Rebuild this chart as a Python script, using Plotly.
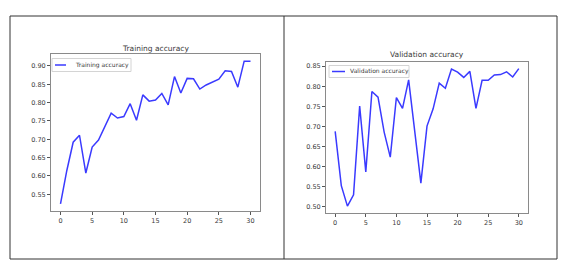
import plotly.graph_objects as go

epochs = list(range(31))
train_acc = [0.524, 0.615, 0.692, 0.711, 0.608, 0.679, 0.698, 0.735, 0.771, 0.758,
             0.762, 0.797, 0.752, 0.821, 0.804, 0.807, 0.825, 0.794, 0.871, 0.826,
             0.866, 0.865, 0.837, 0.848, 0.856, 0.864, 0.887, 0.885, 0.842, 0.913, 0.913]
val_acc = [0.688, 0.553, 0.502, 0.530, 0.751, 0.587, 0.787, 0.773, 0.686, 0.624,
           0.772, 0.745, 0.816, 0.686, 0.559, 0.701, 0.744, 0.808, 0.795, 0.843,
           0.835, 0.822, 0.837, 0.745, 0.815, 0.815, 0.828, 0.829, 0.836, 0.823, 0.844]
train_yticks = [0.55, 0.60, 0.65, 0.70, 0.75, 0.80, 0.85, 0.90]
val_yticks = [0.50, 0.55, 0.60, 0.65, 0.70, 0.75, 0.80, 0.85]
xticks = [0, 5, 10, 15, 20, 25, 30]
titles = ["Training accuracy", "Validation accuracy"]

W, H = 574, 279
def px(x): return x / W
def py(y): return 1 - y / H

LINE = "#3a3aff"
TXT = "#3a3a3a"
FONT = "DejaVu Sans"

fig = go.Figure()
fig.add_trace(go.Scatter(x=epochs, y=train_acc, mode="lines", name=titles[0],
                         line=dict(color=LINE, width=1.5), xaxis="x", yaxis="y"))
fig.add_trace(go.Scatter(x=epochs, y=val_acc, mode="lines", name=titles[1],
                         line=dict(color=LINE, width=1.5), xaxis="x2", yaxis="y2"))

axcommon = dict(showgrid=False, zeroline=False, showline=True, mirror=True,
                linecolor="#8a8a8a", linewidth=1, ticks="outside", ticklen=3,
                tickcolor="#555555", tickwidth=0.8,
                tickfont=dict(family=FONT, size=6.5, color=TXT))

def rng(vals):
    lo, hi = min(vals), max(vals)
    m = (hi - lo) * 0.05
    return [lo - m, hi + m]

annotations = []
shapes = [
    dict(type="rect", xref="paper", yref="paper", x0=px(10), x1=px(557), y0=py(259), y1=py(16),
         line=dict(color="#333333", width=1)),
    dict(type="line", xref="paper", yref="paper", x0=px(284), x1=px(284), y0=py(259), y1=py(16),
         line=dict(color="#333333", width=1)),
]

# titles
for t, (xl, xr), yt in [(titles[0], (51, 260), 48), (titles[1], (326, 528), 55)]:
    annotations.append(dict(text=t, x=px((xl + xr) / 2), y=py(yt), xref="paper", yref="paper",
                            xanchor="center", yanchor="middle", showarrow=False,
                            font=dict(family=FONT, size=7.5, color=TXT)))

# legends (box + line sample + label)
for t, (x0, x1, y0, y1), (l0, l1, tx) in [
        (titles[0], (52, 131, 58.5, 71.5), (55, 66, 73)),
        (titles[1], (329, 409, 65.5, 77.5), (332, 345, 348))]:
    ym = (y0 + y1) / 2
    shapes.append(dict(type="rect", xref="paper", yref="paper", x0=px(x0), x1=px(x1),
                       y0=py(y1), y1=py(y0), fillcolor="rgba(255,255,255,0.8)",
                       line=dict(color="#d4d4d4", width=1)))
    shapes.append(dict(type="line", xref="paper", yref="paper", x0=px(l0), x1=px(l1),
                       y0=py(ym), y1=py(ym), line=dict(color=LINE, width=1.5)))
    annotations.append(dict(text=t, x=px(tx), y=py(ym), xref="paper", yref="paper",
                            xanchor="left", yanchor="middle", showarrow=False,
                            font=dict(family=FONT, size=6, color=TXT)))

fig.update_layout(
    width=W, height=H, margin=dict(l=0, r=0, t=0, b=0),
    paper_bgcolor="white", plot_bgcolor="white", showlegend=False,
    xaxis=dict(domain=[px(51), px(260)], range=rng(epochs), tickvals=xticks, anchor="y", **axcommon),
    yaxis=dict(domain=[py(211), py(54)], range=rng(train_acc), tickvals=train_yticks,
               tickformat=".2f", anchor="x", **axcommon),
    xaxis2=dict(domain=[px(326), px(528)], range=rng(epochs), tickvals=xticks, anchor="y2", **axcommon),
    yaxis2=dict(domain=[py(213), py(61.7)], range=rng(val_acc), tickvals=val_yticks,
                tickformat=".2f", anchor="x2", **axcommon),
    annotations=annotations,
    shapes=shapes,
)

fig.write_html("out.html", config={"displayModeBar": False},
               post_script="document.body.style.margin='0';")
